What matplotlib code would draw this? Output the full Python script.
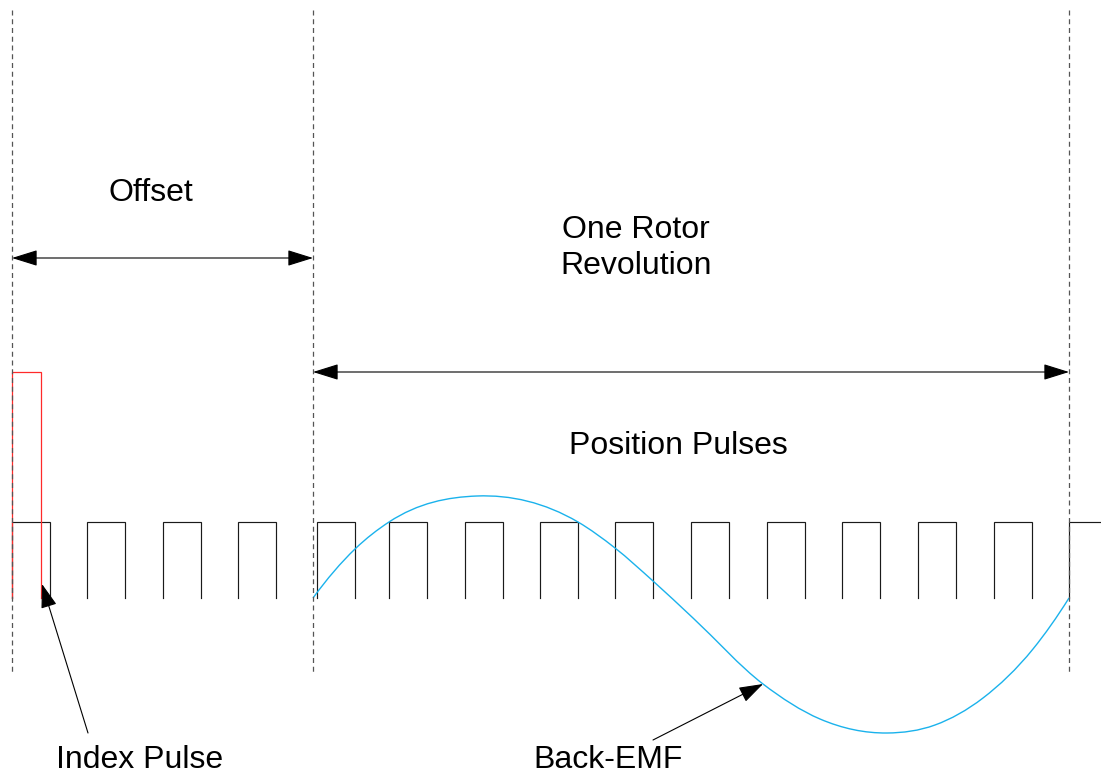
import numpy as np
import matplotlib
matplotlib.use("Agg")
import matplotlib.pyplot as plt
from matplotlib.path import Path
from matplotlib.patches import PathPatch, FancyArrowPatch

plt.rcParams['font.family'] = ['Liberation Sans', 'DejaVu Sans']

# ---- data (pixel-space diagram coordinates) ----
boundaries_x = [12, 313, 1069]          # dashed vertical markers
boundary_y = [10, 673]
pulse_starts = [12, 87, 163, 238, 317, 389, 465, 540, 615, 691, 767, 842, 918, 994, 1069]
pulse_width = 38
pulse_low, pulse_high = 598, 522
index_pulse_x = [12, 41]
index_pulse_top = 372
emf_x = [313, 355, 389, 477, 578, 615, 653, 693, 763, 820, 887, 935, 983, 1033, 1069]
emf_y = [598, 549, 522, 496, 522, 548, 581, 618, 684, 719, 733, 725, 698, 649, 598]
offset_arrow = (12, 313, 258)
rev_arrow = (313, 1069, 372)
labels = ["Offset", "One Rotor\nRevolution", "Position Pulses", "Index Pulse", "Back-EMF"]
label_xy = [(151, 193), (636, 248), (678, 446), (140, 760), (608, 760)]
callouts = [((88, 733), (42, 584)), ((653, 740), (763, 684))]

W, H = 1101, 779
fig = plt.figure(figsize=(W / 100, H / 100), dpi=100)
ax = fig.add_axes([0, 0, 1, 1])
ax.set_xlim(0, W)
ax.set_ylim(H, 0)
ax.axis('off')

# dashed boundaries
for bx in boundaries_x:
    ax.plot([bx, bx], boundary_y, color='#555555', lw=0.9,
            linestyle=(0, (4, 3)), zorder=6)

# position pulses (no low-level segments drawn)
for s in pulse_starts:
    ax.plot([s, s, s + pulse_width, s + pulse_width],
            [pulse_low, pulse_high, pulse_high, pulse_low],
            color='#1a1a1a', lw=0.85, solid_joinstyle='miter', zorder=2)

# index pulse
ax.plot([index_pulse_x[0], index_pulse_x[0], index_pulse_x[1], index_pulse_x[1]],
        [pulse_low, index_pulse_top, index_pulse_top, pulse_low],
        color='#ff2a2a', lw=0.9, solid_joinstyle='miter', zorder=3)

# back-EMF: smooth C1 Hermite curve through the read points (y as function of x)
px = np.array(emf_x, float)
py = np.array(emf_y, float)
h = np.diff(px)
s = np.diff(py) / h
d = np.zeros_like(px)
d[1:-1] = (s[1:] * h[:-1] + s[:-1] * h[1:]) / (h[:-1] + h[1:])
d[0] = s[0] - (d[1] - s[0])
d[-1] = s[-1] + (s[-1] - d[-2])
verts = [(px[0], py[0])]
codes = [Path.MOVETO]
for i in range(len(px) - 1):
    verts += [(px[i] + h[i] / 3, py[i] + d[i] * h[i] / 3),
              (px[i + 1] - h[i] / 3, py[i + 1] - d[i + 1] * h[i] / 3),
              (px[i + 1], py[i + 1])]
    codes += [Path.CURVE4] * 3
ax.add_patch(PathPatch(Path(verts, codes), fill=False, edgecolor='#1ab2ec',
                       lw=1.0, zorder=4))

# dimension arrows
for (x0, x1, yy) in [offset_arrow, rev_arrow]:
    ax.add_patch(FancyArrowPatch((x0, yy), (x1, yy),
                                 arrowstyle='<|-|>,head_length=16,head_width=5',
                                 mutation_scale=1, color='black', lw=0.8,
                                 shrinkA=0, shrinkB=0, zorder=5))

# callout arrows
for (tail, tip) in callouts:
    ax.add_patch(FancyArrowPatch(tail, tip,
                                 arrowstyle='-|>,head_length=15,head_width=5',
                                 mutation_scale=1, color='black', lw=0.8,
                                 shrinkA=0, shrinkB=0, zorder=5))

for txt, (x, y) in zip(labels, label_xy):
    ax.text(x, y, txt, ha='center', va='center', fontsize=23,
            linespacing=1.27, color='black')

fig.savefig('out.png', dpi=100, facecolor='white')
